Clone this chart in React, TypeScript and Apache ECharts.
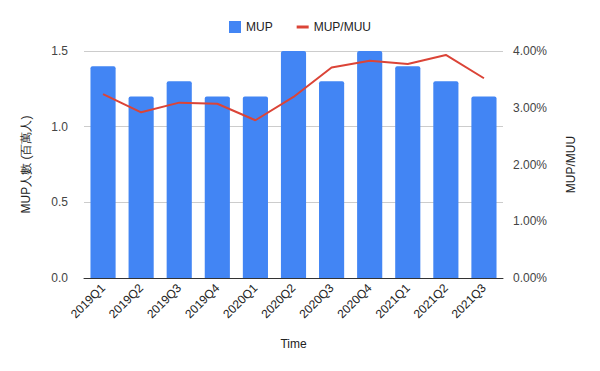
import React, { useEffect, useRef } from "react";
import * as echarts from "echarts";

const categories = ["2019Q1","2019Q2","2019Q3","2019Q4","2020Q1","2020Q2","2020Q3","2020Q4","2021Q1","2021Q2","2021Q3"];
const mup = [1.4, 1.2, 1.3, 1.2, 1.2, 1.5, 1.3, 1.5, 1.4, 1.3, 1.2];
const mupMuu = [3.24, 2.92, 3.09, 3.07, 2.78, 3.19, 3.71, 3.83, 3.77, 3.93, 3.52];
const leftTicks = [0, 0.5, 1.0, 1.5];
const rightTicks = [0, 1, 2, 3, 4];

const FONT = "Liberation Sans, Arial, sans-serif";

export default function App() {
  const ref = useRef<HTMLDivElement>(null);
  useEffect(() => {
    const chart = echarts.init(ref.current!, undefined, { renderer: "svg" });
    chart.setOption({
      animation: false,
      textStyle: { fontFamily: FONT },
      legend: {
        top: 16,
        left: "center",
        itemGap: 24,
        itemWidth: 12,
        itemHeight: 12,
        textStyle: { fontSize: 12, color: "#222", fontFamily: FONT },
        data: [
          { name: "MUP", icon: "rect" },
          { name: "MUP/MUU", icon: "path://M0,0 L12,0 L12,3 L0,3 Z" },
        ],
      },
      grid: { left: 84, right: 97, top: 51, bottom: 93 },
      xAxis: {
        type: "category",
        data: categories,
        name: "Time",
        nameLocation: "middle",
        nameGap: 60,
        nameTextStyle: { fontSize: 12, color: "#222" },
        axisTick: { show: false },
        axisLine: { lineStyle: { color: "#333" } },
        axisLabel: { rotate: 45, fontSize: 12, color: "#222", margin: 8 },
      },
      yAxis: [
        {
          type: "value",
          min: 0,
          max: leftTicks[leftTicks.length - 1],
          interval: 0.5,
          name: "MUP人數 (百萬人)",
          nameLocation: "middle",
          nameGap: 52,
          nameTextStyle: { fontSize: 12, color: "#222" },
          axisLabel: { fontSize: 12, color: "#444", formatter: (v: number) => v.toFixed(1), margin: 16 },
          splitLine: { lineStyle: { color: "#ccc" } },
          axisLine: { show: false },
          axisTick: { show: false },
        },
        {
          type: "value",
          min: 0,
          max: rightTicks[rightTicks.length - 1],
          interval: 1,
          name: "MUP/MUU",
          nameLocation: "middle",
          nameGap: 62,
          nameRotate: 90,
          nameTextStyle: { fontSize: 12, color: "#222" },
          axisLabel: { fontSize: 12, color: "#444", formatter: (v: number) => v.toFixed(2) + "%", margin: 10 },
          splitLine: { show: false },
          axisLine: { show: false },
          axisTick: { show: false },
        },
      ],
      series: [
        {
          name: "MUP",
          type: "bar",
          data: mup,
          barCategoryGap: "34%",
          itemStyle: { color: "#4285f4", borderRadius: [2, 2, 0, 0] },
        },
        {
          name: "MUP/MUU",
          type: "line",
          yAxisIndex: 1,
          data: mupMuu,
          symbol: "none",
          lineStyle: { color: "#db4437", width: 2 },
          itemStyle: { color: "#db4437" },
        },
      ],
    });
    return () => chart.dispose();
  }, []);
  return <div ref={ref} style={{ width: 600, height: 371, position: "absolute", left: 0, top: 0 }} />;
}
